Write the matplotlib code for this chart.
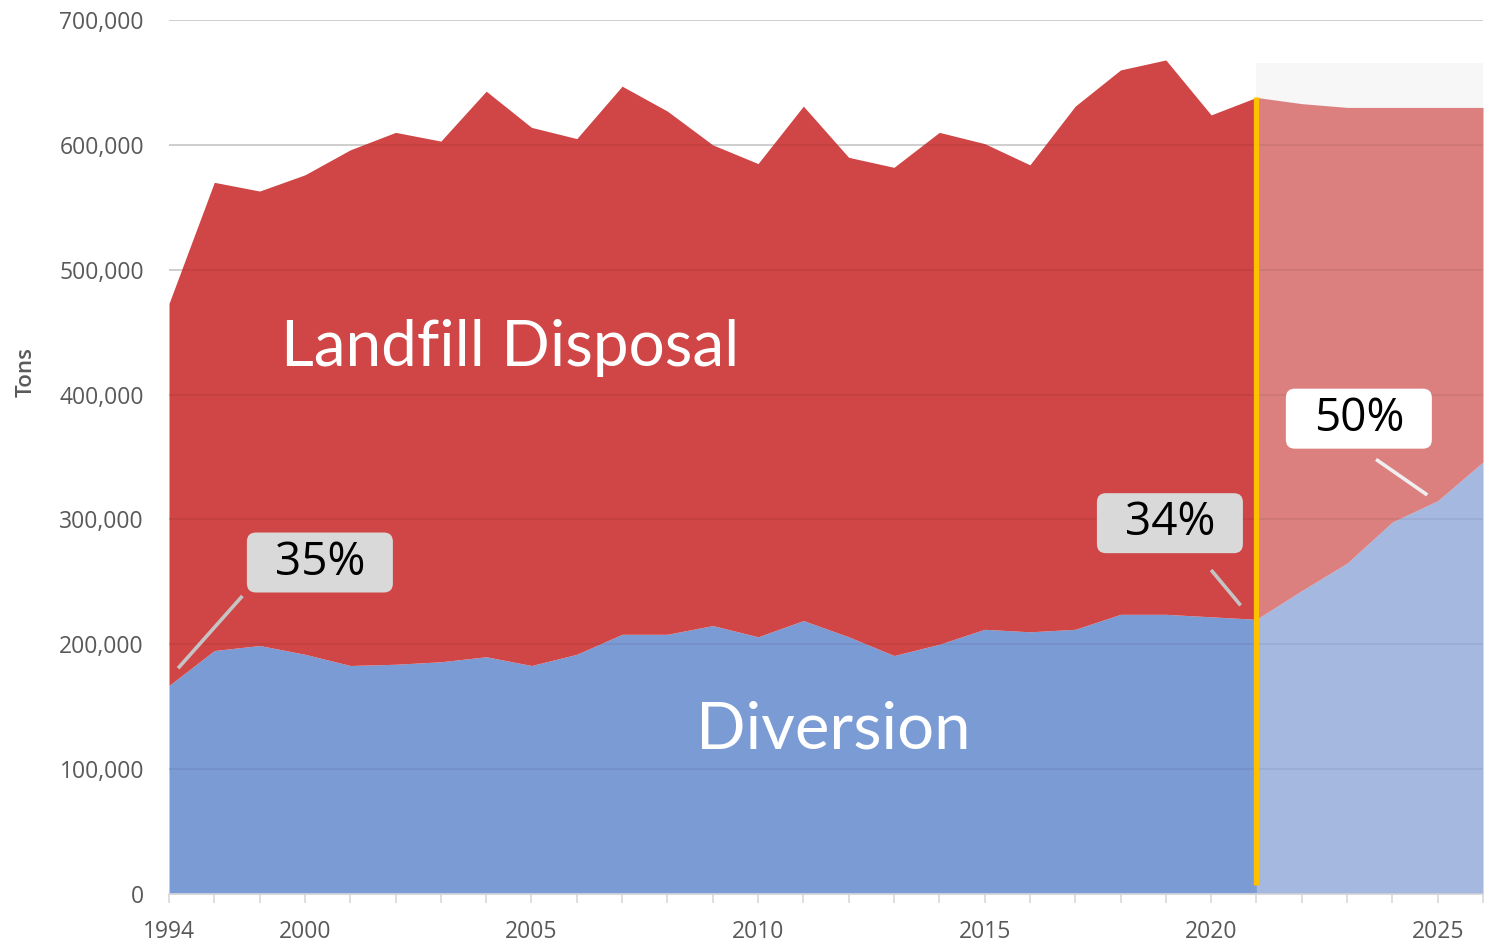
"""Landfill disposal vs diversion, tons per year, with 2026 projection."""

import matplotlib.pyplot as plt
import matplotlib.transforms as mtransforms
from matplotlib.patches import FancyBboxPatch

# categories on the x axis (first three are two-year steps)
years = [1994, 1996, 1998, 2000, 2001, 2002, 2003, 2004, 2005, 2006,
         2007, 2008, 2009, 2010, 2011, 2012, 2013, 2014, 2015, 2016,
         2017, 2018, 2019, 2020, 2021, 2022, 2023, 2024, 2025, 2026]
shown_years = [1994, 2000, 2005, 2010, 2015, 2020, 2025]

# tons diverted (bottom area)
diversion = [167000, 195000, 199000, 192000, 183000, 184000, 186000, 190000,
             183000, 192000, 208000, 208000, 215000, 206000, 219000, 206000,
             191000, 200000, 212000, 210000, 212000, 224000, 224000, 222000,
             220000, 243000, 265000, 298000, 315000, 346000]

# total tons generated (top of landfill area)
total = [473000, 570000, 563000, 576000, 596000, 610000, 603000, 643000,
         614000, 605000, 647000, 627000, 600000, 585000, 631000, 590000,
         582000, 610000, 601000, 584000, 631000, 660000, 668000, 624000,
         638000, 633000, 630000, 630000, 630000, 630000]

last_actual = 2021

# diversion rate call-outs: text, box centre (category position, tons), face
callout_labels = ["35%", "34%", "50%"]
callout_pos = [3.33, 22.09, 26.26]
callout_tons = [265500, 297000, 380700]
callout_faces = ["#D9D9D9", "#D9D9D9", "#FFFFFF"]

# leader line ends (category position, tons)
leader_start = [(1.62, 238700), (23.0, 259500), (26.64, 348100)]
leader_end = [(0.20, 180800), (23.65, 231200), (27.77, 319600)]
leader_colors = ["#C4C4C4", "#C4C4C4", "#EFEFEF"]

RED = "#D04545"
RED_LIGHT = "#DC7F7F"
BLUE = "#7B9BD5"
BLUE_LIGHT = "#A5B8E0"
GRID = "#D9D9D9"
TEXT = "#595959"

x = list(range(len(years)))
split = years.index(last_actual)

fig = plt.figure(figsize=(14.89, 9.43), dpi=100)
ax = fig.add_axes([169 / 1489, 49 / 943, 1314 / 1489, 874 / 943])

ax.set_xlim(0, len(years) - 1)
ax.set_ylim(0, 700000)
yticks = list(range(0, 700001, 100000))

# projection backdrop
ax.axvspan(split, len(years) - 1 + 0.05, ymin=0, ymax=665500 / 700000,
           color="#F7F7F7", zorder=0, lw=0)

for yv in yticks[1:]:
    ax.axhline(yv, color=GRID, lw=1.3, zorder=1)

hist = slice(0, split + 1)
proj = slice(split, len(years))

ax.fill_between(x[hist], 0, diversion[hist], color=BLUE, lw=0, zorder=2)
ax.fill_between(x[hist], diversion[hist], total[hist], color=RED, lw=0, zorder=2)
ax.fill_between(x[proj], 0, diversion[proj], color=BLUE_LIGHT, lw=0, zorder=2)
ax.fill_between(x[proj], diversion[proj], total[proj], color=RED_LIGHT, lw=0, zorder=2)
ax.plot(x[proj], [0] * len(x[proj]), color=BLUE, lw=1.5, zorder=3)

# gridlines showing faintly through the areas
for yv in yticks[1:]:
    ax.axhline(yv, color="black", alpha=0.06, lw=1.3, zorder=3)

ax.plot([split, split], [7000, total[split]], color="#FFC000", lw=3.8,
        solid_capstyle="butt", zorder=5)

ax.text(7.53, 437000, "Landfill Disposal", color="white", fontsize=46,
        family="Lato", ha="center", va="center", zorder=6)
ax.text(14.66, 131000, "Diversion", color="white", fontsize=47,
        family="Lato", ha="center", va="center", zorder=6)

for (x0, t0), (x1, t1), col in zip(leader_start, leader_end, leader_colors):
    ax.plot([x0, x1], [t0, t1], color=col, lw=2.6, zorder=6,
            solid_capstyle="butt")

for label, xc, tons, face in zip(callout_labels, callout_pos, callout_tons,
                                 callout_faces):
    # box drawn in pixel units, centred on the data point
    trans = mtransforms.Affine2D() + mtransforms.ScaledTranslation(
        xc, tons, ax.transData)
    box = FancyBboxPatch((-73, -30), 146, 60,
                         boxstyle="round,pad=0,rounding_size=9",
                         facecolor=face, edgecolor="none",
                         transform=trans, zorder=7)
    ax.add_patch(box)
    ax.text(xc, tons, label, fontsize=33, family="Open Sans", color="black",
            ha="center", va="center", zorder=8)

ax.set_yticks(yticks)
ax.set_yticklabels([f"{v:,}" for v in yticks], family="Open Sans",
                   fontsize=16.5, color=TEXT)
ax.tick_params(axis="y", length=0, pad=18)

ax.set_xticks(x, minor=True)
ax.set_xticks([years.index(yr) for yr in shown_years])
ax.set_xticklabels([str(yr) for yr in shown_years], family="Open Sans",
                   fontsize=16.5, color=TEXT)
ax.tick_params(axis="x", which="both", length=6.5, color=GRID, width=1.2,
               pad=12.5)

ax.set_ylabel("Tons", family="Open Sans", fontsize=16, color=TEXT,
              fontweight="semibold")
ax.yaxis.set_label_coords(-(169 - 37) / 1314, (894 - 372) / 874)

for side in ("top", "right", "left"):
    ax.spines[side].set_visible(False)
ax.spines["bottom"].set_color(GRID)
ax.spines["bottom"].set_linewidth(1.2)
ax.spines["bottom"].set_zorder(4)

fig.savefig("out.png", dpi=100)
